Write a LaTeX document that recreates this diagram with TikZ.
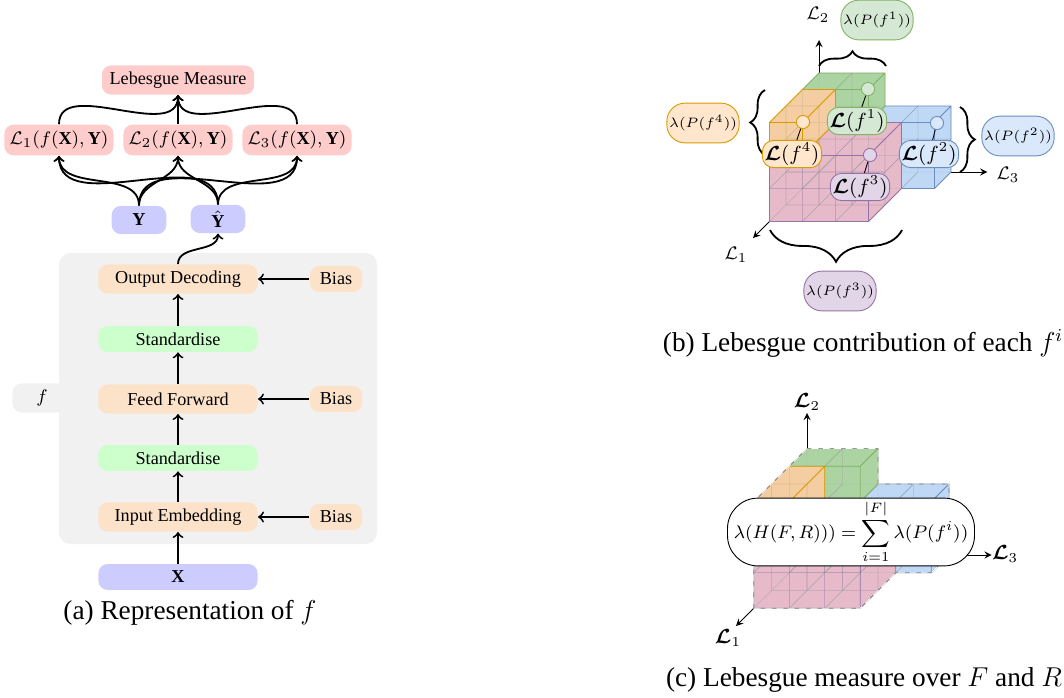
\documentclass[tikz,border=0pt]{standalone}
\usepackage{amsmath,amssymb,bm}
\usepackage{fontspec}
\setmainfont{Liberation Serif}
\usepackage{tikz}
\usetikzlibrary{positioning,arrows,decorations.pathreplacing}
\definecolor{bgray}{RGB}{241,241,241}
\definecolor{peach}{RGB}{253,226,202}
\definecolor{mint}{RGB}{204,255,204}
\definecolor{lilac}{RGB}{204,204,255}
\definecolor{rose}{RGB}{255,204,204}
\definecolor{gfill}{RGB}{172,211,162}
\definecolor{gdraw}{RGB}{130,179,102}
\definecolor{glabel}{RGB}{213,232,212}
\definecolor{bfill}{RGB}{190,216,246}
\definecolor{bdraw}{RGB}{108,142,191}
\definecolor{blabel}{RGB}{218,232,252}
\definecolor{pfill}{RGB}{230,186,200}
\definecolor{pdraw}{RGB}{150,115,166}
\definecolor{plabel}{RGB}{225,213,231}
\definecolor{ofill}{RGB}{244,205,162}
\definecolor{odraw}{RGB}{215,155,0}
\definecolor{olabel}{RGB}{255,230,204}
\tikzset{%
  box/.style={rounded corners=4pt, inner sep=1pt, font=\footnotesize},
  layer/.style={box, minimum width=70pt, minimum height=12.8pt},% stages of f
  bias/.style={box, fill=peach, minimum width=23pt, minimum height=11.5pt},
  loss/.style={box, fill=rose, minimum width=48pt, minimum height=13.5pt},
  target/.style={box, fill=lilac, minimum width=24pt, minimum height=12.4pt},
  flow/.style={->, thick},
  lambdabox/.style={draw, rounded corners=8pt, minimum width=29pt, minimum height=17.5pt,
    inner sep=1pt, font=\fontsize{6.3}{7}\selectfont},% lambda(P(f^i)) labels
  lossbox/.style={draw, rounded corners=5pt, inner sep=1pt, minimum height=12pt, font=\small},
  probe/.style={draw, circle, minimum size=5.8pt, inner sep=0pt},
  gridline/.style={gray!70, very thin, opacity=0.6},
  curly/.style={decorate, decoration={brace, amplitude=#1}, thick},
  axis/.style={-stealth, thin}
}
% block of unit cubes: x0 x1 y0 y1 z0 z1 fill draw
\newcommand*{\cubeblock}[8]{
  \fill[#7] (#1,#3,#6) rectangle (#2,#4,#6);
  \fill[#7] (#1,#4,#6) -- (#2,#4,#6) -- (#2,#4,#5) -- (#1,#4,#5) -- cycle;
  \fill[#7] (#2,#3,#6) -- (#2,#3,#5) -- (#2,#4,#5) -- (#2,#4,#6) -- cycle;
  \pgfmathtruncatemacro{\xa}{#2-1}
  \pgfmathtruncatemacro{\ya}{#4-1}
  \pgfmathtruncatemacro{\za}{#6-1}
  \foreach \i in {#1,...,\xa} \foreach \j in {#3,...,\ya} \foreach \k in {#5,...,\za} {
    \draw[gridline] (\i,\j,\k) rectangle (\i+1,\j+1,\k)
      (\i,\j,\k) -- (\i,\j,\k+1) (\i+1,\j,\k) -- (\i+1,\j,\k+1) (\i,\j+1,\k) -- (\i,\j+1,\k+1);
    \draw[#8, very thin, opacity=0.6] (\i,\j,\k+1) rectangle (\i+1,\j+1,\k+1)
      (\i+1,\j+1,\k) -- (\i+1,\j+1,\k+1);
  }
  \draw[#8, thin] (#1,#3,#6) -- (#2,#3,#6) -- (#2,#3,#5) -- (#2,#4,#5) -- (#1,#4,#5)
    -- (#1,#4,#6) -- cycle (#1,#4,#6) -- (#2,#4,#6) -- (#2,#3,#6) (#2,#4,#6) -- (#2,#4,#5);
}

\begin{document}
\begin{tikzpicture}[x=0.44pt, y=-0.44pt]
\useasboundingbox (0,0) rectangle (1064,697);

% (a) representation of f
\fill[bgray, rounded corners=5pt] (59,253) rectangle (377,544);
\node[box, fill=bgray, minimum width=26pt, minimum height=12.8pt] (ftab) at (42,398) {$f$};

\node[layer, fill=lilac, minimum height=11.4pt] (x) at (178,577) {$\mathbf{X}$};
\node[layer, fill=peach] (emb)  at (178,517) {Input Embedding};
\node[layer, fill=mint, minimum height=11.4pt] (std1) at (178,458) {Standardise};
\node[layer, fill=peach] (ff)   at (178,399) {Feed Forward};
\node[layer, fill=mint, minimum height=11.4pt] (std2) at (178,339) {Standardise};
\node[layer, fill=peach] (dec)  at (178,279) {Output Decoding};

\node[bias] (bias1) at (336,517) {Bias};
\node[bias] (bias2) at (336,399) {Bias};
\node[bias] (bias3) at (336,279) {Bias};

\node[target] (y)    at (139,220) {$\mathbf{Y}$};
\node[target] (yhat) at (218,219) {$\hat{\mathbf{Y}}$};

\node[loss] (l1) at (59,140)  {$\mathcal{L}_1(f(\mathbf{X}),\mathbf{Y})$};
\node[loss] (l2) at (178,140) {$\mathcal{L}_2(f(\mathbf{X}),\mathbf{Y})$};
\node[loss] (l3) at (297,140) {$\mathcal{L}_3(f(\mathbf{X}),\mathbf{Y})$};
\node[box, fill=rose, minimum width=67pt, minimum height=12.8pt] (lm) at (178,80) {Lebesgue Measure};

\draw[flow] (x) -- (emb);
\draw[flow] (emb) -- (std1);
\draw[flow] (std1) -- (ff);
\draw[flow] (ff) -- (std2);
\draw[flow] (std2) -- (dec);
\draw[flow] (bias1) -- (emb);
\draw[flow] (bias2) -- (ff);
\draw[flow] (bias3) -- (dec);
\draw[flow] (dec.north) to[out=90, in=-90] (yhat.south);
\foreach \s in {y, yhat}
  \foreach \t in {l1, l2, l3}
    \draw[flow] (\s.north) to[out=90, in=-90] (\t.south);
\foreach \t in {l1, l2, l3}
  \draw[flow] (\t.north) to[out=90, in=-90] (lm.south);

\node[font=\large] (capa) at (190,613) {(a) Representation of $f$};

% (b) contribution of each f^i
\begin{scope}[shift={(819,172)}, x={(14.52pt,0pt)}, y={(0pt,14.52pt)}, z={(-7.26pt,-7.26pt)}]
  \coordinate (bo) at (0,0,0);
  \coordinate (bx) at (5.1,0,0);
  \coordinate (by) at (0,4,0);
  \coordinate (bz) at (0,0,4);
  \draw[axis] (bo) -- (bx);
  \draw[axis] (bo) -- (by);
  \draw[axis] (bo) -- (bz);
  \cubeblock{2}{4}{0}{2}{0}{1}{bfill}{bdraw}
  \cubeblock{0}{2}{2}{3}{0}{1}{gfill}{gdraw}
  \cubeblock{0}{3}{0}{2}{1}{3}{pfill}{pdraw}
  \cubeblock{0}{1}{2}{3}{1}{3}{ofill}{odraw}
\end{scope}
\node[font=\footnotesize] (bl1) at (736,255) {$\mathcal{L}_1$};
\node[font=\footnotesize] (bl2) at (818,15)  {$\mathcal{L}_2$};
\node[font=\footnotesize] (bl3) at (1008,175) {$\mathcal{L}_3$};

\draw[curly=6.5pt] (819,66) -- (886,66);
\draw[curly=6.5pt] (765,155) -- (765,90);
\draw[curly=6.5pt] (960,107) -- (960,172);
\draw[curly=14pt] (902,230) -- (770,230);

\node[lambdabox, draw=gdraw, fill=glabel] (lam1) at (877,20)  {$\lambda(P(f^1))$};
\node[lambdabox, draw=odraw, fill=olabel] (lam4) at (703,123) {$\lambda(P(f^4))$};
\node[lambdabox, draw=bdraw, fill=blabel] (lam2) at (1018,136) {$\lambda(P(f^2))$};
\node[lambdabox, draw=pdraw, fill=plabel] (lam3) at (840,291) {$\lambda(P(f^3))$};

\node[probe, draw=gdraw, fill=glabel] (p1) at (868,89)  {};
\node[probe, draw=odraw, fill=olabel] (p4) at (803,122) {};
\node[probe, draw=bdraw, fill=blabel] (p2) at (937,123) {};
\node[probe, draw=pdraw, fill=plabel] (p3) at (870,155) {};
\node[lossbox, draw=gdraw, fill=glabel] (lf1) at (857,121) {$\boldsymbol{\mathcal{L}}(f^1)$};
\node[lossbox, draw=odraw, fill=olabel] (lf4) at (792,154) {$\boldsymbol{\mathcal{L}}(f^4)$};
\node[lossbox, draw=bdraw, fill=blabel] (lf2) at (929,154) {$\boldsymbol{\mathcal{L}}(f^2)$};
\node[lossbox, draw=pdraw, fill=plabel] (lf3) at (860,187) {$\boldsymbol{\mathcal{L}}(f^3)$};
\draw (p1) -- (lf1);
\draw (p4) -- (lf4);
\draw (p2) -- (lf2);
\draw (p3) -- (lf3);

\node[font=\large] (capb) at (863,343) {(b) Lebesgue contribution of each $f^i$};

% (c) measure over F and R
\begin{scope}[shift={(807,555)}, x={(15.62pt,0pt)}, y={(0pt,15.62pt)}, z={(-7.81pt,-7.81pt)}]
  \coordinate (co) at (0,0,0);
  \coordinate (cx) at (5.2,0,0);
  \coordinate (cy) at (0,4,0);
  \coordinate (cz) at (0,0,4);
  \draw[axis] (co) -- (cx);
  \draw[axis] (co) -- (cy);
  \draw[axis] (co) -- (cz);
  \cubeblock{2}{4}{0}{2}{0}{1}{bfill}{bdraw}
  \cubeblock{0}{2}{2}{3}{0}{1}{gfill}{gdraw}
  \cubeblock{0}{3}{0}{2}{1}{3}{pfill}{pdraw}
  \cubeblock{0}{1}{2}{3}{1}{3}{ofill}{odraw}
  \draw[gray!80] (0,0,3) -- (3,0,3) -- (3,0,1) -- (4,0,1) -- (4,0,0) -- (4,2,0) -- (2,2,0)
    -- (2,3,0) -- (0,3,0) -- (0,3,3) -- cycle;
  \draw[white, densely dashed] (0,0,3) -- (3,0,3) -- (3,0,1) -- (4,0,1) -- (4,0,0) -- (4,2,0)
    -- (2,2,0) -- (2,3,0) -- (0,3,0) -- (0,3,3) -- cycle;
\end{scope}
\node[draw, fill=white, rounded corners=13.4pt, minimum width=108.7pt, minimum height=26.8pt,
  inner sep=1pt, font=\fontsize{8.5}{10}\selectfont] (hv) at (851,532)
  {$\lambda(H(F,R))) = \displaystyle\sum_{i=1}^{|F|} \lambda(P(f^i))$};
\node[font=\small] (cl1) at (728,638) {$\boldsymbol{\mathcal{L}}_1$};
\node[font=\small] (cl2) at (807,402) {$\boldsymbol{\mathcal{L}}_2$};
\node[font=\small] (cl3) at (1005,554) {$\boldsymbol{\mathcal{L}}_3$};

\node[font=\large] (capc) at (864,680) {(c) Lebesgue measure over $F$ and $R$};
\end{tikzpicture}
\end{document}
